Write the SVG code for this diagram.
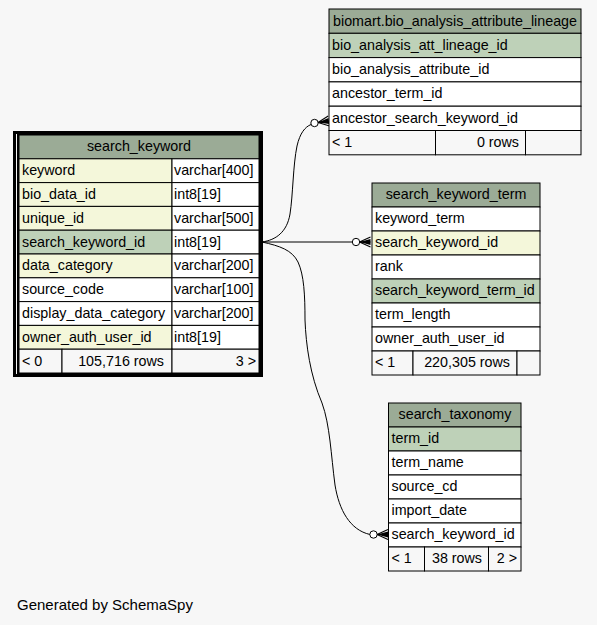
<svg xmlns="http://www.w3.org/2000/svg" xmlns:xlink="http://www.w3.org/1999/xlink" width="597" height="625" viewBox="0 0 597 625">
<style>
text{font-family:"Liberation Sans",Arial,sans-serif;font-size:14.3px;fill:#000}
.c{text-anchor:middle}
.r{text-anchor:end}
.hd{fill:#9bab96;stroke:#000;stroke-width:1}
.pk{fill:#bed1b8;stroke:#000;stroke-width:1}
.fk{fill:#f4f7da;stroke:#000;stroke-width:1}
.w{fill:#fff;stroke:#000;stroke-width:1}
.ft{fill:#f7f7f7;stroke:#000;stroke-width:1}
.edge{fill:none;stroke:#000;stroke-width:1}
.dot{fill:#fff;stroke:#000;stroke-width:1}
</style>
<defs>
<g id="crow">
<polygon points="0,0 11,-3 11,3" fill="#000"/>
<path d="M0,0 L11,-5 M0,0 L11,0 M0,0 L11,5" stroke="#000" stroke-width="1.1" fill="none"/>
</g>
</defs>
<rect width="597" height="625" fill="#f7f7f7"/>

<g id="connectors">
<path class="edge" d="M262,242 C276,240 287,232 290,214 C293,195 293,165 297,146 C300,133 305,127 311,124.5"/>
<circle class="dot" cx="314.5" cy="123" r="3.7"/>
<use xlink:href="#crow" transform="translate(318,122.5) rotate(-8)"/>
<path class="edge" d="M262,242 L352.5,242"/>
<circle class="dot" cx="356" cy="242" r="3.7"/>
<use xlink:href="#crow" transform="translate(359.5,242)"/>
<path class="edge" d="M262,242 C280,246 292,250 298,262 C304,275 305,295 305,320 C306,345 310,375 322,403 C330,425 331,455 335,485 C339,510 350,530 370,534.5"/>
<circle class="dot" cx="373.5" cy="534.5" r="3.7"/>
<use xlink:href="#crow" transform="translate(377,534.5)"/>
</g>

<g id="search_keyword">
<rect x="14.5" y="132.5" width="247" height="243" fill="none" stroke="#000" stroke-width="3"/>
<rect x="18" y="135" width="241" height="238" fill="none" stroke="#000" stroke-width="2"/>
<rect class="hd" x="19" y="135" width="240" height="23.8"/>
<rect class="fk" x="19" y="158.8" width="153" height="23.8"/><rect class="w" x="172" y="158.8" width="87" height="23.8"/>
<rect class="fk" x="19" y="182.6" width="153" height="23.8"/><rect class="w" x="172" y="182.6" width="87" height="23.8"/>
<rect class="fk" x="19" y="206.4" width="153" height="23.8"/><rect class="w" x="172" y="206.4" width="87" height="23.8"/>
<rect class="pk" x="19" y="230.2" width="153" height="23.8"/><rect class="w" x="172" y="230.2" width="87" height="23.8"/>
<rect class="fk" x="19" y="254" width="153" height="23.8"/><rect class="w" x="172" y="254" width="87" height="23.8"/>
<rect class="w" x="19" y="277.8" width="153" height="23.8"/><rect class="w" x="172" y="277.8" width="87" height="23.8"/>
<rect class="w" x="19" y="301.6" width="153" height="23.8"/><rect class="w" x="172" y="301.6" width="87" height="23.8"/>
<rect class="fk" x="19" y="325.4" width="153" height="23.8"/><rect class="w" x="172" y="325.4" width="87" height="23.8"/>
<rect class="ft" x="19" y="349.2" width="43" height="23.8"/><rect class="ft" x="62" y="349.2" width="110" height="23.8"/><rect class="ft" x="172" y="349.2" width="87" height="23.8"/>
<text class="c" x="139" y="151">search_keyword</text>
<text x="22" y="175">keyword</text><text x="174" y="175">varchar[400]</text>
<text x="22" y="199">bio_data_id</text><text x="174" y="199">int8[19]</text>
<text x="22" y="222.5">unique_id</text><text x="174" y="222.5">varchar[500]</text>
<text x="22" y="246.5">search_keyword_id</text><text x="174" y="246.5">int8[19]</text>
<text x="22" y="270">data_category</text><text x="174" y="270">varchar[200]</text>
<text x="22" y="294">source_code</text><text x="174" y="294">varchar[100]</text>
<text x="22" y="318">display_data_category</text><text x="174" y="318">varchar[200]</text>
<text x="22" y="341.5">owner_auth_user_id</text><text x="174" y="341.5">int8[19]</text>
<text x="22" y="365.5">&lt; 0</text><text class="r" x="164" y="365.5">105,716 rows</text><text class="r" x="256" y="365.5">3 &gt;</text>
</g>

<g id="bio_analysis_attribute_lineage">
<rect class="hd" x="329" y="9" width="252" height="24.3"/>
<rect class="pk" x="329" y="33.3" width="252" height="24.3"/>
<rect class="w" x="329" y="57.6" width="252" height="24.3"/>
<rect class="w" x="329" y="81.9" width="252" height="24.3"/>
<rect class="w" x="329" y="106.2" width="252" height="24.3"/>
<rect class="ft" x="329" y="130.5" width="106.5" height="24.3"/><rect class="ft" x="435.5" y="130.5" width="90" height="24.3"/><rect class="ft" x="525.5" y="130.5" width="55.5" height="24.3"/>
<text class="c" x="455" y="25.5">biomart.bio_analysis_attribute_lineage</text>
<text x="332" y="49.5">bio_analysis_att_lineage_id</text>
<text x="332" y="74">bio_analysis_attribute_id</text>
<text x="332" y="98">ancestor_term_id</text>
<text x="332" y="122.5">ancestor_search_keyword_id</text>
<text x="332" y="146.5">&lt; 1</text><text class="r" x="519" y="146.5">0 rows</text>
</g>

<g id="search_keyword_term">
<rect class="hd" x="372" y="183" width="168" height="24"/>
<rect class="w" x="372" y="207" width="168" height="24"/>
<rect class="fk" x="372" y="231" width="168" height="24"/>
<rect class="w" x="372" y="255" width="168" height="24"/>
<rect class="pk" x="372" y="279" width="168" height="24"/>
<rect class="w" x="372" y="303" width="168" height="24"/>
<rect class="w" x="372" y="327" width="168" height="24"/>
<rect class="ft" x="372" y="351" width="41" height="24"/><rect class="ft" x="413" y="351" width="104" height="24"/><rect class="ft" x="517" y="351" width="23" height="24"/>
<text class="c" x="456" y="199">search_keyword_term</text>
<text x="375" y="223">keyword_term</text>
<text x="375" y="247">search_keyword_id</text>
<text x="375" y="271">rank</text>
<text x="375" y="295">search_keyword_term_id</text>
<text x="375" y="319">term_length</text>
<text x="375" y="343">owner_auth_user_id</text>
<text x="375" y="367">&lt; 1</text><text class="r" x="510" y="367">220,305 rows</text>
</g>

<g id="search_taxonomy">
<rect class="hd" x="388.5" y="403" width="132.5" height="24"/>
<rect class="pk" x="388.5" y="427" width="132.5" height="24"/>
<rect class="w" x="388.5" y="451" width="132.5" height="24"/>
<rect class="w" x="388.5" y="475" width="132.5" height="24"/>
<rect class="w" x="388.5" y="499" width="132.5" height="24"/>
<rect class="w" x="388.5" y="523" width="132.5" height="24"/>
<rect class="ft" x="388.5" y="547" width="36" height="24"/><rect class="ft" x="424.5" y="547" width="64" height="24"/><rect class="ft" x="488.5" y="547" width="32.5" height="24"/>
<text class="c" x="455" y="419">search_taxonomy</text>
<text x="391.5" y="443">term_id</text>
<text x="391.5" y="467">term_name</text>
<text x="391.5" y="491">source_cd</text>
<text x="391.5" y="515">import_date</text>
<text x="391.5" y="539">search_keyword_id</text>
<text x="391.5" y="563">&lt; 1</text><text class="r" x="482" y="563">38 rows</text><text class="r" x="517" y="563">2 &gt;</text>
</g>

<text x="17" y="610" style="font-size:15px">Generated by SchemaSpy</text>
</svg>
